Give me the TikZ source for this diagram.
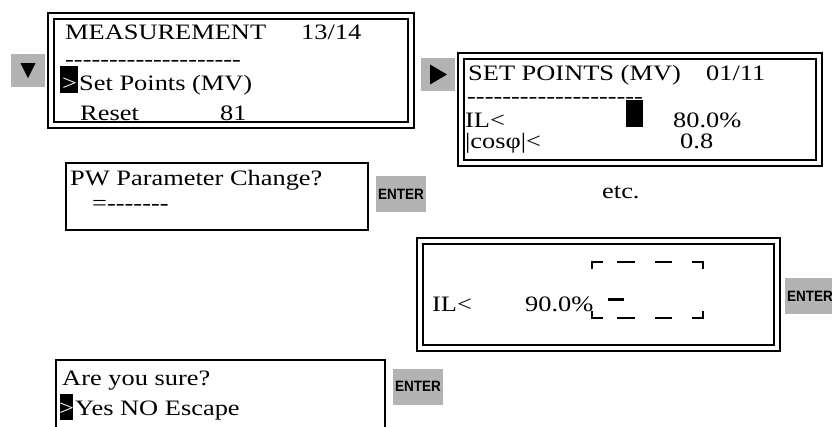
\documentclass[tikz,border=0pt]{standalone}
\usepackage{fontspec}
\setmainfont{Liberation Serif}[FakeStretch=1.2]
\newfontfamily\keyfont{Liberation Sans}[FakeStretch=0.9]
\usetikzlibrary{calc}
\definecolor{keygray}{RGB}{179,179,179}
\newcommand\dashrow[1]{\foreach \i in {1,...,#1}{\mbox{-}}}
\tikzset{
  screen/.style={draw,double,double distance=4pt,line width=2pt,inner sep=0pt},
  dialog/.style={draw,line width=2.5pt,inner sep=0pt},
  navkey/.style={fill=keygray,inner sep=0pt,minimum width=34pt,minimum height=33pt},
  enterkey/.style={fill=keygray,inner sep=0pt,minimum width=50pt,minimum height=36pt,
    font=\keyfont\bfseries\fontsize{15}{15}\selectfont},
  lcd/.style={inner sep=0pt,anchor=base west,font=\fontsize{22}{24}\selectfont},
  cursor/.style={fill=black,inner sep=0pt}
}

\begin{document}
\begin{tikzpicture}[
  x=1pt,y=-1pt,
  brk/.style={line width=2pt},
  tri/.style={fill=black}
]
\useasboundingbox (0,0) rectangle (832,426);
\clip (0,0) rectangle (832,426);

% Screens
\node[screen,minimum width=360pt,minimum height=109pt] (meas) at (231,70) {};
\node[screen,minimum width=358pt,minimum height=107.5pt] (setp) at (639.5,109.25) {};
\node[screen,minimum width=357pt,minimum height=107pt] (edit) at (598,294.5) {};
\node[dialog,minimum width=302pt,minimum height=67pt] (pw) at (217,196.5) {};
\node[dialog,minimum width=329pt,minimum height=80pt] (sure) at (220.5,400) {};

% Keys
\node[navkey] (kdown) at (28,70.5) {};
\fill[tri] ($(kdown)+(-7.5,-7.5)$) -- ++(15,0) -- ++(-7.5,15) -- cycle;
\node[navkey] (kright) at (438,74.5) {};
\fill[tri] ($(kright)+(-8,-10)$) -- ++(0,20) -- ++(17,-10) -- cycle;
\node[enterkey] (enter1) at (401,194) {ENTER};
\node[enterkey] (enter2) at (810,296) {ENTER};
\node[enterkey] (enter3) at (418,386.5) {ENTER};

% Measurement screen
\node[lcd] (m1) at (65,39) {MEASUREMENT};
\node[lcd] (m1r) at (301,39) {13/14};
\node[lcd] (m2) at (65,66) {\dashrow{20}};
\node[cursor,minimum width=18pt,minimum height=27pt] (mcur) at (69,79.5) {};
\node[lcd,text=white] (mgt) at (62,90) {>};
\node[lcd] (m3) at (79,90) {Set Points (MV)};
\node[lcd] (m4) at (80,120) {Reset};
\node[lcd] (m4r) at (220,120) {81};

% Set points screen
\node[lcd] (s1) at (468,80) {SET POINTS (MV)};
\node[lcd] (s1r) at (706,80) {01/11};
\node[lcd] (s2) at (467,103) {\dashrow{20}};
\node[cursor,minimum width=17pt,minimum height=27pt] (scur) at (634.5,113.5) {};
\node[lcd] (s3) at (465,127) {IL<};
\node[lcd] (s3r) at (673,127) {80.0\%};
\node[lcd] (s4) at (465,148) {|cos\symbol{"03C6}|<};
\node[lcd] (s4r) at (680,148) {0.8};

% Password dialog
\node[lcd] (p1) at (70,185) {PW Parameter Change?};
\node[lcd] (p2) at (92,210) {=\dashrow{7}};
\node[lcd] (etc) at (602,198) {etc.};

% Edit screen
\node[lcd] (e1) at (432,311) {IL<};
\node[lcd] (e1r) at (525,311) {90.0\%};
\draw[brk] (592,269) -- (592,262) -- (603,262);
\draw[brk] (692,262) -- (703,262) -- (703,269);
\draw[brk] (592,311) -- (592,318) -- (603,318);
\draw[brk] (692,318) -- (703,318) -- (703,311);
\foreach \xa/\xb in {617/635,655/672} {
  \draw[brk] (\xa,262) -- (\xb,262);
  \draw[brk] (\xa,318) -- (\xb,318);
}
\draw[line width=3pt] (608,299) -- (624,299);

% Confirm dialog
\node[lcd] (c1) at (62,385) {Are you sure?};
\node[cursor,minimum width=13pt,minimum height=26pt] (ccur) at (66.5,407) {};
\node[lcd,text=white] (cgt) at (59,415) {>};
\node[lcd] (c2) at (75,415) {Yes NO Escape};

\end{tikzpicture}
\end{document}
